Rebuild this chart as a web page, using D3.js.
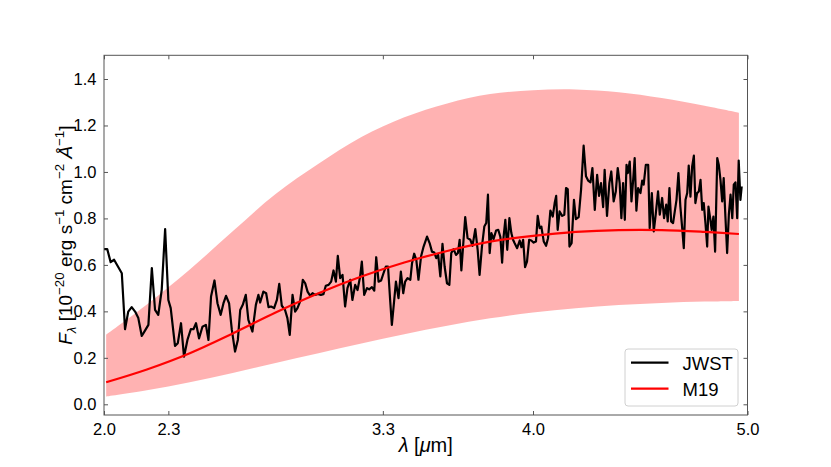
<!DOCTYPE html>
<html><head><meta charset="utf-8">
<script src="https://cdn.jsdelivr.net/npm/d3@7"></script>
<style>
html,body{margin:0;padding:0;background:#fff;}
svg{display:block;font-family:"Liberation Sans",Arial,Helvetica,sans-serif;}
</style></head>
<body>
<svg id="chart" width="831" height="467"></svg>
<script>
// ---- data ----
const xTicks = [2.0, 2.3, 3.3, 4.0, 5.0];
const xTickLabels = ["2.0", "2.3", "3.3", "4.0", "5.0"];
const yTicks = [0.0, 0.2, 0.4, 0.6, 0.8, 1.0, 1.2, 1.4];
const yTickLabels = ["0.0", "0.2", "0.4", "0.6", "0.8", "1.0", "1.2", "1.4"];
const seriesNames = ["JWST", "M19"];

const jwstLambda = [
2.000,2.015,2.031,2.047,2.067,2.083,2.098,2.113,2.129,2.145,2.160,2.176,2.191,2.207,2.223,2.238,2.253,2.269,2.285,2.300,
2.311,2.331,2.344,2.359,2.373,2.389,2.405,2.417,2.429,2.443,2.459,2.475,2.487,2.499,2.515,2.529,2.544,2.557,2.569,2.583,
2.596,2.611,2.624,2.635,2.647,2.661,2.673,2.692,2.708,2.720,2.728,2.743,2.756,2.767,2.779,2.793,2.806,2.817,2.829,2.844,
2.855,2.866,2.879,2.891,2.902,2.914,2.927,2.938,2.949,2.961,2.972,2.984,2.997,3.011,3.023,3.034,3.047,3.059,3.070,3.081,
3.090,3.101,3.112,3.124,3.135,3.148,3.158,3.171,3.182,3.194,3.202,3.213,3.226,3.236,3.249,3.260,3.269,3.280,3.292,3.303,
3.314,3.324,3.334,3.342,3.353,3.361,3.373,3.384,3.395,3.404,3.415,3.428,3.436,3.446,3.456,3.466,3.478,3.490,3.506,3.518,
3.529,3.540,3.549,3.558,3.568,3.578,3.588,3.599,3.610,3.619,3.630,3.641,3.650,3.658,3.666,3.674,3.684,3.695,3.708,3.718,
3.731,3.742,3.751,3.762,3.773,3.782,3.790,3.798,3.806,3.816,3.828,3.838,3.848,3.856,3.863,3.871,3.880,3.890,3.899,3.907,
3.914,3.926,3.938,3.946,3.954,3.963,3.972,3.982,3.992,4.003,4.014,4.022,4.031,4.039,4.050,4.061,4.070,4.081,4.092,4.101,
4.108,4.115,4.124,4.136,4.146,4.154,4.162,4.170,4.180,4.191,4.200,4.213,4.224,4.236,4.247,4.257,4.268,4.277,4.288,4.299,
4.308,4.317,4.327,4.334,4.345,4.356,4.365,4.376,4.386,4.395,4.404,4.412,4.420,4.428,4.436,4.442,4.451,4.459,4.467,4.474,
4.482,4.490,4.501,4.509,4.516,4.526,4.537,4.544,4.554,4.563,4.572,4.583,4.591,4.602,4.611,4.621,4.628,4.636,4.644,4.653,
4.661,4.669,4.678,4.687,4.695,4.703,4.711,4.719,4.726,4.734,4.742,4.750,4.757,4.765,4.773,4.781,4.789,4.796,4.804,4.812,
4.818,4.826,4.833,4.841,4.849,4.859,4.866,4.874,4.882,4.889,4.897,4.905,4.913,4.921,4.929,4.936,4.944,4.952,4.959,4.967,
4.973
];
const jwstFlux = [
0.668,0.668,0.612,0.622,0.590,0.564,0.323,0.399,0.418,0.399,0.371,0.294,0.317,0.342,0.586,0.406,0.385,0.492,0.754,0.449,
0.414,0.251,0.263,0.349,0.205,0.277,0.324,0.323,0.349,0.284,0.334,0.342,0.277,0.464,0.533,0.435,0.385,0.435,0.467,0.435,
0.320,0.227,0.277,0.406,0.428,0.471,0.363,0.313,0.428,0.471,0.438,0.485,0.478,0.418,0.421,0.414,0.449,0.518,0.424,0.406,
0.371,0.299,0.471,0.399,0.414,0.442,0.536,0.521,0.485,0.467,0.478,0.471,0.475,0.471,0.474,0.510,0.514,0.528,0.576,0.528,
0.639,0.543,0.557,0.421,0.500,0.536,0.449,0.514,0.492,0.550,0.614,0.471,0.500,0.495,0.504,0.489,0.633,0.528,0.533,0.564,
0.593,0.593,0.449,0.342,0.449,0.528,0.457,0.571,0.478,0.528,0.543,0.536,0.607,0.648,0.622,0.536,0.636,0.679,0.722,0.694,
0.657,0.653,0.629,0.643,0.550,0.691,0.593,0.521,0.514,0.651,0.668,0.643,0.651,0.708,0.576,0.679,0.806,0.715,0.708,0.682,
0.754,0.665,0.557,0.679,0.765,0.780,0.902,0.651,0.737,0.711,0.748,0.751,0.720,0.610,0.722,0.794,0.665,0.801,0.737,0.708,
0.694,0.672,0.705,0.676,0.708,0.590,0.614,0.708,0.705,0.696,0.701,0.811,0.758,0.765,0.701,0.682,0.715,0.834,0.808,0.866,
0.897,0.751,0.830,0.811,0.816,0.931,0.926,0.679,0.694,0.880,0.797,0.806,0.923,1.113,0.981,0.963,0.955,1.017,0.837,0.988,
0.897,0.952,0.849,1.009,0.811,0.952,1.002,0.873,0.916,1.017,0.952,0.801,0.952,0.794,1.031,0.995,1.045,0.873,0.966,1.060,
0.833,0.931,0.909,0.963,0.945,1.031,1.031,0.758,0.909,0.744,0.816,0.916,0.816,0.888,0.801,0.859,0.787,0.931,0.787,0.780,
0.830,0.880,0.995,0.851,0.765,0.672,0.880,0.909,1.027,0.894,1.024,1.070,0.866,0.909,0.916,0.966,0.837,0.866,0.780,0.679,
0.851,0.801,0.751,0.808,0.657,1.060,1.031,0.966,0.873,0.974,0.808,0.651,0.816,0.902,0.801,0.945,0.955,0.801,1.049,0.880,
0.938
];

const modelLambda = [2.01, 2.2, 2.4, 2.6, 2.8, 3.0, 3.2, 3.4, 3.6, 3.8, 4.0, 4.2, 4.4, 4.6, 4.8, 4.96];
const modelFlux   = [0.095, 0.15, 0.22, 0.305, 0.395, 0.478, 0.55, 0.61, 0.66, 0.70, 0.725, 0.742, 0.75, 0.75, 0.742, 0.733];
const modelUpper  = [0.30, 0.43, 0.58, 0.745, 0.905, 1.035, 1.15, 1.235, 1.295, 1.335, 1.352, 1.355, 1.343, 1.318, 1.285, 1.255];
const modelLower  = [0.033, 0.06, 0.095, 0.135, 0.178, 0.22, 0.262, 0.302, 0.338, 0.37, 0.395, 0.413, 0.427, 0.436, 0.442, 0.445];

// ---- layout ----
const W = 831, H = 467;
const m = {left: 104, right: 831 - 747.5, top: 55.3, bottom: 467 - 415};
const svg = d3.select("#chart");

const x = d3.scaleLinear().domain([2.0, 5.0]).range([m.left, W - m.right]);
const y = d3.scaleLinear().domain([-0.046, 1.502]).range([H - m.bottom, m.top]);

const jwst = jwstLambda.map((l, i) => ({l, f: jwstFlux[i]}));
const model = modelLambda.map((l, i) => ({l, f: modelFlux[i], lo: modelLower[i], hi: modelUpper[i]}));

const clipId = "plotclip";
svg.append("clipPath").attr("id", clipId).append("rect")
  .attr("x", m.left).attr("y", m.top)
  .attr("width", W - m.left - m.right).attr("height", H - m.top - m.bottom);

const plot = svg.append("g").attr("clip-path", `url(#${clipId})`);

plot.append("path").datum(model)
  .attr("fill", "red").attr("fill-opacity", 0.3).attr("stroke", "none")
  .attr("d", d3.area().curve(d3.curveCatmullRom)
    .x(d => x(d.l)).y0(d => y(d.lo)).y1(d => y(d.hi)));

plot.append("path").datum(jwst)
  .attr("fill", "none").attr("stroke", "black").attr("stroke-width", 2.2)
  .attr("stroke-linejoin", "round")
  .attr("d", d3.line().x(d => x(d.l)).y(d => y(d.f)));

plot.append("path").datum(model)
  .attr("fill", "none").attr("stroke", "red").attr("stroke-width", 2.2)
  .attr("d", d3.line().curve(d3.curveCatmullRom).x(d => x(d.l)).y(d => y(d.f)));

// ---- axes ----
const tickLen = 4;
const axisColor = "#555";
const fs = 16.5;
const lfs = 20;
const ylfs = 19;

const xAxisB = d3.axisBottom(x).tickValues(xTicks).tickFormat((d, i) => xTickLabels[i])
  .tickSizeInner(-tickLen).tickSizeOuter(0).tickPadding(8);
const gxb = svg.append("g").attr("transform", `translate(0,${H - m.bottom})`).call(xAxisB);
const xAxisT = d3.axisTop(x).tickValues(xTicks).tickFormat("")
  .tickSizeInner(-tickLen).tickSizeOuter(0);
const gxt = svg.append("g").attr("transform", `translate(0,${m.top})`).call(xAxisT);

const yAxisL = d3.axisLeft(y).tickValues(yTicks).tickFormat((d, i) => yTickLabels[i])
  .tickSizeInner(-tickLen).tickSizeOuter(0).tickPadding(7.5);
const gyl = svg.append("g").attr("transform", `translate(${m.left},0)`).call(yAxisL);
const yAxisR = d3.axisRight(y).tickValues(yTicks).tickFormat("")
  .tickSizeInner(-tickLen).tickSizeOuter(0);
const gyr = svg.append("g").attr("transform", `translate(${W - m.right},0)`).call(yAxisR);

[gxb, gxt, gyl, gyr].forEach(g => {
  g.select(".domain").remove();
  g.selectAll(".tick line").attr("stroke", axisColor).attr("stroke-width", 1);
  g.selectAll(".tick text").attr("fill", "#000").style("font-size", fs + "px")
    .style("font-family", '"Liberation Sans",Arial,sans-serif');
});

svg.append("rect").attr("x", m.left).attr("y", m.top)
  .attr("width", W - m.left - m.right).attr("height", H - m.top - m.bottom)
  .attr("fill", "none").attr("stroke", axisColor).attr("stroke-width", 1);

// x label
const xl = svg.append("text").attr("x", (m.left + W - m.right) / 2).attr("y", 452)
  .attr("text-anchor", "middle").style("font-size", lfs + "px");
xl.append("tspan").style("font-style", "italic").text("λ");
xl.append("tspan").text(" [");
xl.append("tspan").style("font-style", "italic").text("μ");
xl.append("tspan").text("m]");

// y label
const yl = svg.append("text")
  .attr("transform", `translate(71.5,${(m.top + H - m.bottom) / 2}) rotate(-90)`)
  .attr("text-anchor", "middle").style("font-size", ylfs + "px");
const sub = ylfs * 0.7;
const up = 7.5;
yl.append("tspan").style("font-style", "italic").text("F");
yl.append("tspan").style("font-style", "italic").style("font-size", sub + "px").attr("dy", 4).text("λ");
yl.append("tspan").attr("dy", -4).text(" [10");
yl.append("tspan").style("font-size", sub + "px").attr("dy", -up).text("−20");
yl.append("tspan").attr("dy", up).text(" erg s");
yl.append("tspan").style("font-size", sub + "px").attr("dy", -up).text("−1");
yl.append("tspan").attr("dy", up).text(" cm");
yl.append("tspan").style("font-size", sub + "px").attr("dy", -up).text("−2");
yl.append("tspan").attr("dy", up).style("font-style", "italic").text(" Å");
yl.append("tspan").style("font-size", sub + "px").attr("dy", -up).text("−1");
yl.append("tspan").attr("dy", up).text("]");

// legend
const lg = svg.append("g");
lg.append("rect").attr("x", 625).attr("y", 349).attr("width", 113).attr("height", 57)
  .attr("rx", 3).attr("fill", "#fff").attr("fill-opacity", 0.8)
  .attr("stroke", "#d0d0d0").attr("stroke-width", 1);
const legColors = ["black", "red"];
seriesNames.forEach((name, i) => {
  const yy = 362.7 + i * 26;
  lg.append("line").attr("x1", 631).attr("x2", 668.5).attr("y1", yy).attr("y2", yy)
    .attr("stroke", legColors[i]).attr("stroke-width", 2.2);
  lg.append("text").attr("x", 682.5).attr("y", yy + 7.5)
    .style("font-size", "18.5px").text(name);
});
</script>
</body></html>
